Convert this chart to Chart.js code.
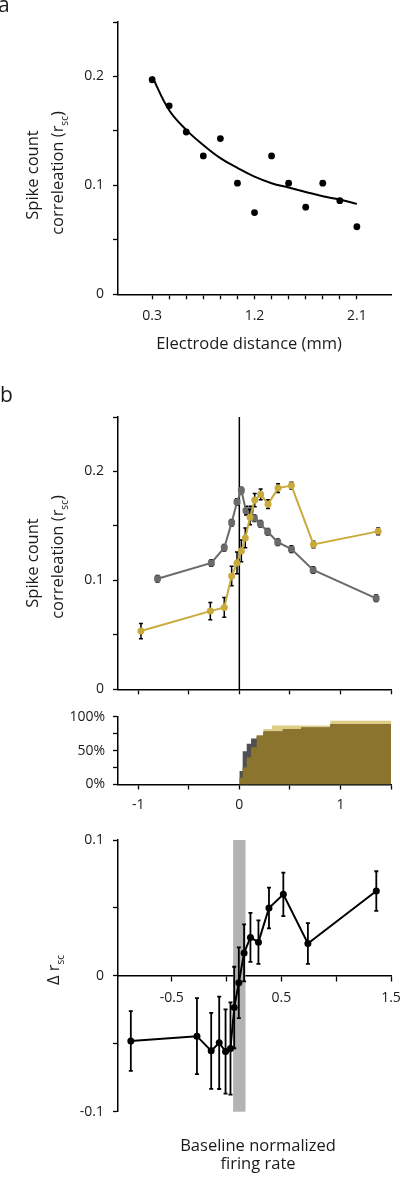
<!DOCTYPE html>
<html>
<head>
<meta charset="utf-8">
<script src="https://cdn.jsdelivr.net/npm/chart.js@4.4.1/dist/chart.umd.min.js"></script>
<style>
html, body { margin: 0; padding: 0; background: #fff; }
body { width: 400px; height: 1177px; position: relative; overflow: hidden; }
canvas { position: absolute; left: 0; }
</style>
</head>
<body>
<canvas id="panelA" width="400" height="360" style="top:0px"></canvas>
<canvas id="panelB1" width="400" height="330" style="top:370px"></canvas>
<canvas id="panelB2" width="400" height="115" style="top:700px"></canvas>
<canvas id="panelC" width="400" height="362" style="top:815px"></canvas>
<script>
// ---- panel a : r_sc vs electrode distance
var distX = [0.3, 0.45, 0.6, 0.75, 0.9, 1.05, 1.2, 1.35, 1.5, 1.65, 1.8, 1.95, 2.1];
var distR = [0.197, 0.173, 0.149, 0.127, 0.143, 0.102, 0.075, 0.127, 0.102, 0.080, 0.102, 0.086, 0.062];
var fitR  = [0.200, 0.169, 0.151, 0.137, 0.125, 0.116, 0.108, 0.102, 0.098, 0.094, 0.090, 0.087, 0.083];
var xTicksA = [0.3, 0.45, 0.6, 0.75, 0.9, 1.05, 1.2, 1.35, 1.5, 1.65, 1.8, 1.95, 2.1];
var xLabelsA = [0.3, 1.2, 2.1];
var yTicksA = [0, 0.05, 0.1, 0.15, 0.2, 0.25];
var yLabelsA = [0, 0.1, 0.2];

// ---- panel b (top) : r_sc vs baseline normalized firing rate
var grayX = [-0.809, -0.277, -0.149, -0.076, -0.023, 0.020, 0.066, 0.109, 0.149, 0.208, 0.280, 0.380, 0.515, 0.730, 1.353];
var grayR = [0.1015, 0.116, 0.130, 0.153, 0.172, 0.1826, 0.164, 0.164, 0.157, 0.152, 0.1446, 0.135, 0.1287, 0.1095, 0.0835];
var grayErr = [0.003, 0.003, 0.003, 0.003, 0.003, 0.003, 0.004, 0.004, 0.003, 0.003, 0.003, 0.003, 0.003, 0.003, 0.003];
var goldX = [-0.973, -0.287, -0.149, -0.076, -0.023, 0.020, 0.059, 0.106, 0.152, 0.211, 0.284, 0.383, 0.515, 0.733, 1.373];
var goldR = [0.0535, 0.0718, 0.0752, 0.104, 0.116, 0.127, 0.139, 0.158, 0.1737, 0.179, 0.170, 0.1847, 0.187, 0.133, 0.145];
var goldErr = [0.007, 0.008, 0.009, 0.009, 0.010, 0.010, 0.009, 0.007, 0.006, 0.005, 0.004, 0.004, 0.003, 0.003, 0.003];
var xTicksB = [-1, -0.5, 0, 0.5, 1, 1.5];
var xLabelsB = [-1, 0, 1];

// ---- panel b (middle) : cumulative % of pairs
var cdfX    = [0, 0.033, 0.073, 0.116, 0.172, 0.238, 0.323, 0.43, 0.61, 0.9, 1.5];
var cdfGray = [20, 49, 60, 68, 72, 78, 78, 82, 84, 89, 89];
var cdfGold = [10, 25, 40, 55, 73, 82, 87, 87, 87, 94, 94];
var yTicksPct = [0, 25, 50, 75, 100];
var yLabelsPct = [0, 50, 100];

// ---- panel b (bottom) : delta r_sc
var dX = [-0.873, -0.27, -0.14, -0.067, -0.009, 0.036, 0.07, 0.112, 0.16, 0.218, 0.291, 0.387, 0.518, 0.742, 1.366];
var dR = [-0.048, -0.0444, -0.0552, -0.0493, -0.0557, -0.0535, -0.0233, -0.0051, 0.0169, 0.0283, 0.0248, 0.050, 0.060, 0.0238, 0.0624];
var dErr = [0.022, 0.028, 0.028, 0.034, 0.031, 0.034, 0.030, 0.026, 0.021, 0.018, 0.016, 0.015, 0.016, 0.015, 0.0146];
var bandX = [0.06, 0.173];
var xTicksC = [-0.5, 0, 0.5, 1, 1.5];
var xLabelsC = [-0.5, 0.5, 1.5];
var yTicksC = [-0.1, -0.05, 0, 0.05, 0.1];
var yLabelsC = [-0.1, 0, 0.1];

Chart.defaults.font.family = "'Open Sans', sans-serif";
Chart.defaults.color = '#1a1a1a';

var FONT = "'Open Sans', sans-serif";
var TITLE = 16.5;

function pts(xs, ys){ return xs.map(function(x, i){ return {x: x, y: ys[i]}; }); }
function has(list, v){ return list.some(function(l){ return Math.abs(l - v) < 1e-9; }); }

function axis(min, max, ticks, labels, suffix, fitSize, horiz, pad){
  return {
    type: 'linear', min: min, max: max,
    afterBuildTicks: function(s){ s.ticks = ticks.map(function(v){ return {value: v}; }); },
    afterFit: function(s){
      if (horiz){ s.height = fitSize; s.paddingLeft = 0; s.paddingRight = 0; }
      else { s.width = fitSize; s.paddingTop = 0; s.paddingBottom = 0; }
    },
    ticks: {
      autoSkip: false, maxRotation: 0, padding: pad, color: '#1a1a1a',
      font: {size: 14, family: FONT},
      callback: function(v){ return has(labels, v) ? String(v) + (suffix || '') : ''; }
    },
    grid: {display: true, drawOnChartArea: false, drawTicks: true, tickLength: 5,
           tickColor: '#000', tickWidth: 1.3, color: '#000'},
    border: {display: true, color: '#000', width: 1.5}
  };
}

// text helper, supports a subscript part
function drawRich(ctx, parts, x, y, rot, size, align){
  ctx.save();
  ctx.translate(x, y);
  ctx.rotate(rot);
  ctx.fillStyle = '#1a1a1a';
  ctx.textBaseline = 'alphabetic';
  ctx.textAlign = 'left';
  var w = 0;
  parts.forEach(function(p){
    ctx.font = (p.sub ? Math.round(size * 0.62) : size) + 'px ' + FONT;
    p.w = ctx.measureText(p.t).width;
    w += p.w;
  });
  var cx = align === 'left' ? 0 : -w / 2;
  parts.forEach(function(p){
    ctx.font = (p.sub ? Math.round(size * 0.62) : size) + 'px ' + FONT;
    ctx.fillText(p.t, cx, p.sub ? size * 0.28 : 0);
    cx += p.w;
  });
  ctx.restore();
}

var textPlugin = {
  id: 'texts',
  afterDraw: function(chart, args, opts){
    (opts.items || []).forEach(function(it){
      drawRich(chart.ctx, it.parts, it.x, it.y, it.rot || 0, it.size || TITLE, it.align);
    });
  }
};

var errorBars = {
  id: 'errorBars',
  beforeDatasetDraw: function(chart, args){
    var ds = chart.data.datasets[args.index];
    if (!ds.err) return;
    var xs = chart.scales.x, ys = chart.scales.y, ctx = chart.ctx;
    ctx.save();
    ctx.strokeStyle = '#000';
    ctx.lineWidth = ds.errWidth || 1.5;
    ds.data.forEach(function(p, i){
      var px = xs.getPixelForValue(p.x);
      var y1 = ys.getPixelForValue(p.y - ds.err[i]);
      var y2 = ys.getPixelForValue(p.y + ds.err[i]);
      var c = ds.capHalf || 2;
      ctx.beginPath();
      ctx.moveTo(px, y1); ctx.lineTo(px, y2);
      ctx.moveTo(px - c, y1); ctx.lineTo(px + c, y1);
      ctx.moveTo(px - c, y2); ctx.lineTo(px + c, y2);
      ctx.stroke();
    });
    ctx.restore();
  }
};

// vertical reference line at x = 0 (panel b top) and shaded band (panel b bottom)
var backdrop = {
  id: 'backdrop',
  beforeDatasetsDraw: function(chart, args, opts){
    var xs = chart.scales.x, ctx = chart.ctx, a = chart.chartArea;
    ctx.save();
    if (opts.band){
      var x1 = xs.getPixelForValue(opts.band[0]), x2 = xs.getPixelForValue(opts.band[1]);
      ctx.fillStyle = '#b3b3b3';
      ctx.fillRect(x1, a.top, x2 - x1, a.bottom - a.top);
    }
    if (opts.vline !== undefined){
      var vx = xs.getPixelForValue(opts.vline);
      ctx.strokeStyle = '#000';
      ctx.lineWidth = 1.5;
      ctx.beginPath(); ctx.moveTo(vx, a.top); ctx.lineTo(vx, a.bottom); ctx.stroke();
    }
    ctx.restore();
  }
};

var yTitle2 = [{t: 'correleation (r'}, {t: 'sc', sub: true}, {t: ')'}];
var ROT = -Math.PI / 2;

// ===== panel a
new Chart(document.getElementById('panelA'), {
  type: 'line',
  data: {
    datasets: [
      {data: pts(distX, distR), showLine: false, pointRadius: 3.4, pointBackgroundColor: '#000',
       pointBorderWidth: 0},
      {data: pts(distX, fitR), borderColor: '#000', borderWidth: 2, pointRadius: 0, tension: 0.4}
    ]
  },
  options: {
    responsive: false, animation: false,
    layout: {padding: {left: 0, right: 9, top: 22, bottom: 0}},
    scales: {
      x: axis(0, 2.4, xTicksA, xLabelsA, '', 65.7, true, 8),
      y: axis(0, 0.25, yTicksA, yLabelsA, '', 118, false, 9)
    },
    plugins: {
      legend: {display: false}, tooltip: {enabled: false},
      texts: {items: [
        {parts: [{t: 'a'}], x: -2, y: 12, size: 21, align: 'left'},
        {parts: [{t: 'Spike count'}], x: 38, y: 175, rot: ROT},
        {parts: yTitle2, x: 63, y: 173, rot: ROT},
        {parts: [{t: 'Electrode distance (mm)'}], x: 249, y: 348.5}
      ]}
    }
  },
  plugins: [textPlugin]
});

// ===== panel b top
new Chart(document.getElementById('panelB1'), {
  type: 'line',
  data: {
    datasets: [
      {data: pts(goldX, goldR), err: goldErr, borderColor: '#c9aa3c', borderWidth: 2,
       pointStyle: 'circle', pointRadius: 3.5, pointBackgroundColor: '#c9aa3c', pointBorderWidth: 0},
      {data: pts(grayX, grayR), err: grayErr, borderColor: '#6a6a6a', borderWidth: 2,
       pointStyle: 'rectRounded', pointRadius: 4, pointBackgroundColor: '#6a6a6a', pointBorderWidth: 0}
    ]
  },
  options: {
    responsive: false, animation: false,
    layout: {padding: {left: 0, right: 9, top: 47, bottom: 0}},
    scales: {
      x: axis(-1.2, 1.5, xTicksB, [], '', 10.7, true, 8),
      y: axis(0, 0.25, yTicksA, yLabelsA, '', 118, false, 9)
    },
    plugins: {
      legend: {display: false}, tooltip: {enabled: false},
      backdrop: {vline: 0},
      texts: {items: [
        {parts: [{t: 'b'}], x: 0, y: 31.7, size: 21, align: 'left'},
        {parts: [{t: 'Spike count'}], x: 38, y: 193, rot: ROT},
        {parts: yTitle2, x: 63, y: 187, rot: ROT}
      ]}
    }
  },
  plugins: [backdrop, errorBars, textPlugin]
});

// ===== panel b middle (cumulative distributions)
var cdfBoth = cdfGray.map(function(v, i){ return Math.min(v, cdfGold[i]); });
function stepSet(vals, color){
  return {data: pts(cdfX, vals), stepped: true, fill: 'origin', backgroundColor: color,
          borderWidth: 0, pointRadius: 0};
}
new Chart(document.getElementById('panelB2'), {
  type: 'line',
  data: {
    datasets: [
      stepSet(cdfBoth, '#8a742e'),
      stepSet(cdfGray, '#505050'),
      stepSet(cdfGold, '#e0cd85')
    ]
  },
  options: {
    responsive: false, animation: false,
    layout: {padding: {left: 0, right: 9, top: 16.7, bottom: 0}},
    scales: {
      x: axis(-1.2, 1.5, xTicksB, xLabelsB, '', 30.5, true, 7),
      y: axis(0, 100, yTicksPct, yLabelsPct, '%', 118, false, 8)
    },
    plugins: {legend: {display: false}, tooltip: {enabled: false}}
  }
});

// ===== panel b bottom (delta r_sc)
var cx = axis(-0.99, 1.5, xTicksC, xLabelsC, '', 0, true, 9);
cx.position = {y: 0};
new Chart(document.getElementById('panelC'), {
  type: 'line',
  data: {
    datasets: [
      {data: pts(dX, dR), err: dErr, errWidth: 1.8, capHalf: 2, borderColor: '#000', borderWidth: 2,
       pointRadius: 3.5, pointBackgroundColor: '#000', pointBorderWidth: 0}
    ]
  },
  options: {
    responsive: false, animation: false,
    layout: {padding: {left: 0, right: 9, top: 25, bottom: 65.3}},
    scales: {
      x: cx,
      y: axis(-0.1, 0.1, yTicksC, yLabelsC, '', 118, false, 9)
    },
    plugins: {
      legend: {display: false}, tooltip: {enabled: false},
      backdrop: {band: bandX},
      texts: {items: [
        {parts: [{t: '\u0394 r'}, {t: 'sc', sub: true}], x: 59, y: 155, rot: ROT},
        {parts: [{t: 'Baseline normalized'}], x: 258, y: 336},
        {parts: [{t: 'firing rate'}], x: 258, y: 354}
      ]}
    }
  },
  plugins: [backdrop, errorBars, textPlugin]
});
</script>
</body>
</html>
